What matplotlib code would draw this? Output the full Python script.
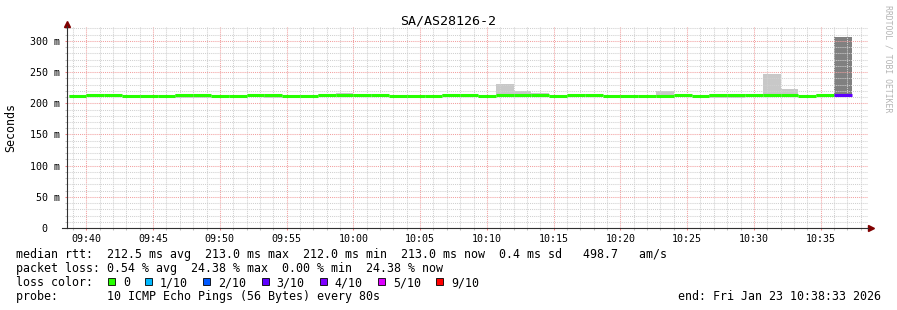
import matplotlib
matplotlib.use("Agg")
import matplotlib.pyplot as plt
import matplotlib.dates as mdates
from matplotlib.patches import Rectangle
from matplotlib.ticker import MultipleLocator, FuncFormatter
import numpy as np
import pandas as pd

W, H = 897, 310
MONO = "DejaVu Sans Mono"

# one value per 80 s probe round
step_start = pd.date_range("2026-01-23 09:38:40", periods=44, freq="80s")
median_ms = [211.6, 213.2, 213.2, 212.4, 211.6, 211.6, 213.2, 213.2, 212.4, 211.6,
             213.2, 213.2, 212.4, 211.6, 213.2, 213.2, 213.2, 213.2, 212.4, 211.6,
             211.6, 213.2, 213.2, 211.6, 213.2, 213.2, 213.2, 212.4, 213.2, 213.2,
             212.4, 211.6, 211.6, 211.6, 213.2, 212.4, 213.2, 213.2, 213.2, 213.2,
             213.2, 212.4, 213.2, 213.2]
rtt_hi = [212.6, 214.2, 214.2, 213.4, 212.6, 212.6, 214.2, 214.2, 213.4, 212.6,
          214.2, 214.2, 213.4, 212.6, 214.2, 216.0, 214.2, 214.2, 213.4, 212.6,
          212.6, 214.2, 214.2, 212.6, 231.0, 220.0, 216.7, 213.4, 214.2, 214.2,
          213.4, 212.6, 212.6, 220.0, 214.2, 213.4, 214.2, 214.2, 214.2, 247.0,
          223.0, 213.4, 214.2, 307.0]
rtt_lo = [210.6, 212.2, 212.2, 211.4, 210.6, 210.6, 208.6, 208.6, 211.4, 210.6,
          212.2, 208.6, 211.4, 210.6, 212.2, 212.2, 212.2, 212.2, 211.4, 210.6,
          210.6, 212.2, 212.2, 210.6, 212.2, 212.2, 212.2, 211.4, 212.2, 212.2,
          211.4, 210.6, 210.6, 210.6, 212.2, 211.4, 208.6, 208.6, 212.2, 212.2,
          212.2, 211.4, 212.2, 212.2]
lost_pings = [0, 0, 0, 0, 0, 0, 0, 0, 0, 0,
              0, 0, 0, 0, 0, 0, 0, 0, 0, 0,
              0, 0, 0, 0, 0, 0, 0, 0, 0, 0,
              0, 0, 0, 0, 0, 0, 0, 0, 0, 0,
              0, 0, 0, 3]

loss_levels = [0, 1, 2, 3, 4, 5, 9]
loss_labels = ["0", "1/10", "2/10", "3/10", "4/10", "5/10", "9/10"]
loss_colors = ["#26ff00", "#00b8ff", "#0059ff", "#5e00ff", "#7e00ff", "#dd00ff", "#ff0000"]

legend_lines = [
    "median rtt:  212.5 ms avg  213.0 ms max  212.0 ms min  213.0 ms now  0.4 ms sd   498.7   am/s",
    "packet loss: 0.54 % avg  24.38 % max  0.00 % min  24.38 % now",
    "loss color:",
    "probe:       10 ICMP Echo Pings (56 Bytes) every 80s",
]


def loss_color(n):
    c = loss_colors[0]
    for lvl, col in zip(loss_levels, loss_colors):
        if n >= lvl:
            c = col
    return c


def fy(y):
    return 1 - y / H


fig = plt.figure(figsize=(W / 100, H / 100), dpi=100)
ax = fig.add_axes([67 / W, fy(228), 801 / W, 202 / H])

t0 = mdates.date2num(step_start.to_pydatetime())
step = 80 / 86400
med = np.array(median_ms)
lo = np.array(rtt_lo)
hi = np.array(rtt_hi)

# smoke
smoke = ["#c8c8c8" if n == 0 else "#808080" for n in lost_pings]
ax.bar(t0, hi - lo, bottom=lo, width=step, align="edge", color=smoke, linewidth=0, zorder=1)

# median line, coloured by loss
ax.hlines(med, t0, t0 + step, colors=[loss_color(n) for n in lost_pings], linewidth=2.2, zorder=3)

ax.set_xlim(pd.Timestamp("2026-01-23 09:38:33"), pd.Timestamp("2026-01-23 10:38:33"))
ax.set_ylim(0, 324)

ax.xaxis.set_major_locator(mdates.MinuteLocator(byminute=range(0, 60, 5)))
ax.xaxis.set_minor_locator(mdates.MinuteLocator())
ax.xaxis.set_major_formatter(mdates.DateFormatter("%H:%M"))
ax.yaxis.set_major_locator(MultipleLocator(50))
ax.yaxis.set_minor_locator(MultipleLocator(10))
ax.yaxis.set_major_formatter(FuncFormatter(lambda v, p: "0  " if v == 0 else f"{v:.0f} m"))

ax.grid(which="major", color="#f2a0a0", linestyle=(0, (1, 1)), linewidth=0.75)
ax.grid(which="minor", color="#d0d0d0", linestyle=(0, (1, 1)), linewidth=0.75)

ax.tick_params(which="both", direction="out", length=1.5, width=0.75, labelsize=7.2, pad=2.5)
ax.tick_params(axis="x", which="major", color="#f08080")
ax.tick_params(axis="x", which="minor", color="#c0c0c0")
ax.tick_params(axis="y", which="major", color="#f08080", pad=3.5)
ax.tick_params(axis="y", which="minor", color="#c0c0c0")
for lab in ax.get_xticklabels() + ax.get_yticklabels():
    lab.set_family(MONO)

for s in ("top", "right"):
    ax.spines[s].set_visible(False)
for s in ("left", "bottom"):
    ax.spines[s].set_color("#303030")
    ax.spines[s].set_linewidth(0.8)
    ax.spines[s].set_zorder(4)

# axis extensions and arrows
ax.plot([-5 / 801, 0], [0, 0], transform=ax.transAxes, clip_on=False, color="#303030", lw=0.8)
ax.plot([1, 1 + 2 / 801], [0, 0], transform=ax.transAxes, clip_on=False, color="#303030", lw=0.8)
ax.plot([1 + 3 / 801], [0], transform=ax.transAxes, clip_on=False, marker=">", color="#800000", markersize=4)
ax.plot([0], [1 + 2 / 202], transform=ax.transAxes, clip_on=False, marker="^", color="#800000", markersize=4)

fig.text(448.5 / W, fy(24), "SA/AS28126-2", ha="center", va="baseline", family=MONO, size=9.6)
fig.text(11 / W, fy(128), "Seconds", rotation=90, ha="center", va="center", family=MONO, size=8.39)
fig.text(887.5 / W, fy(59), "RRDTOOL / TOBI OETIKER", rotation=-90, ha="center", va="center",
         family=MONO, size=5.9, color="#b4b4b4")

for i, line in enumerate(legend_lines):
    fig.text(16 / W, fy(258 + 14 * i), line, ha="left", va="baseline", family=MONO, size=8.39)
fig.text(880.5 / W, fy(300), "end: Fri Jan 23 10:38:33 2026", ha="right", va="baseline",
         family=MONO, size=8.39)

# loss colour swatches
bx = 108
for lab, col in zip(loss_labels, loss_colors):
    fig.patches.append(Rectangle((bx / W, fy(285)), 7 / W, 7 / H, transform=fig.transFigure,
                                 facecolor=col, edgecolor="black", linewidth=0.6))
    fig.text((bx + 15) / W, fy(286), lab, ha="left", va="baseline", family=MONO, size=8.39)
    bx += 15 + len(lab) * 7.07 + 15

fig.savefig("out.png", dpi=100)
